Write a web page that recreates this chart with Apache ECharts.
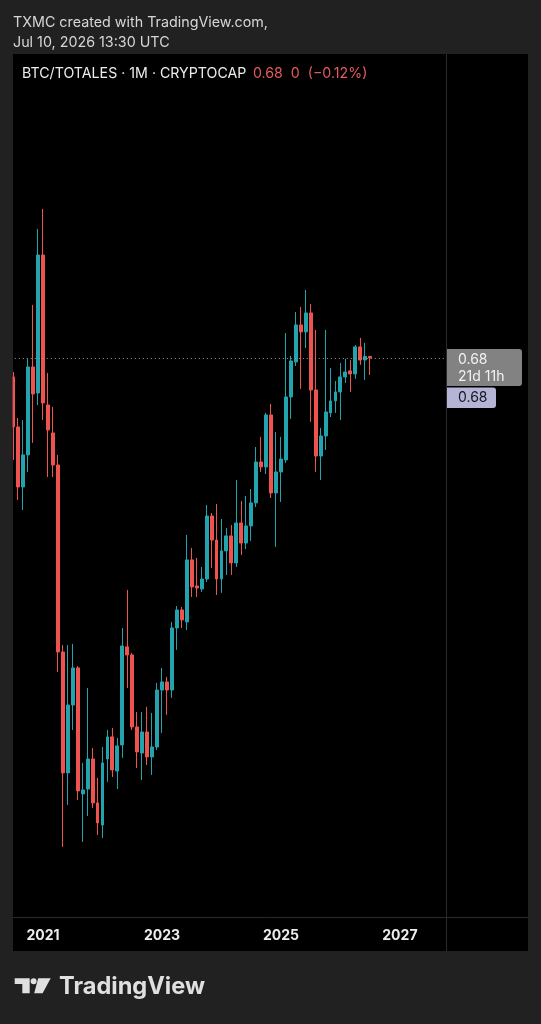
<!DOCTYPE html>
<html>
<head>
<meta charset="utf-8">
<script src="https://cdn.jsdelivr.net/npm/echarts@6/dist/echarts.min.js"></script>
<style>
  html, body { margin: 0; padding: 0; background: #212121; }
  #chart { width: 541px; height: 1024px; }
</style>
</head>
<body>
<div id="chart"></div>
<script>
// BTC/TOTALES monthly candles, Jul 2020 .. Jul 2026
const opens = [
  0.6699, 0.6432, 0.6112, 0.6283, 0.6752, 0.6613, 0.7349, 0.6549, 0.6400, 0.6229,
  0.5232, 0.4587, 0.4949, 0.5147, 0.4475, 0.4501, 0.4661, 0.4427, 0.4309, 0.4661,
  0.4779, 0.4597, 0.4736, 0.5259, 0.5216, 0.4832, 0.4693, 0.4805, 0.4672, 0.4725,
  0.5029, 0.5072, 0.5029, 0.5360, 0.5456, 0.5392, 0.5723, 0.5584, 0.5568, 0.5621,
  0.5957, 0.5829, 0.5621, 0.5771, 0.5851, 0.5707, 0.5920, 0.5813, 0.5904, 0.6027,
  0.6245, 0.6219, 0.6496, 0.6080, 0.6192, 0.6256, 0.6592, 0.6779, 0.6976, 0.6939,
  0.7040, 0.6629, 0.6277, 0.6384, 0.6507, 0.6571, 0.6619, 0.6699, 0.6731, 0.6715,
  0.6859, 0.6789, 0.6808
];
const closes = [
  0.6432, 0.6112, 0.6283, 0.6752, 0.6608, 0.7349, 0.6560, 0.6416, 0.6229, 0.5232,
  0.4587, 0.4949, 0.5147, 0.4491, 0.4496, 0.4661, 0.4427, 0.4320, 0.4640, 0.4779,
  0.4603, 0.4731, 0.5264, 0.5216, 0.4832, 0.4699, 0.4805, 0.4672, 0.4725, 0.5029,
  0.5072, 0.5029, 0.5360, 0.5456, 0.5403, 0.5723, 0.5579, 0.5573, 0.5621, 0.5957,
  0.5829, 0.5621, 0.5771, 0.5851, 0.5707, 0.5920, 0.5813, 0.5904, 0.6027, 0.6245,
  0.6219, 0.6496, 0.6080, 0.6192, 0.6261, 0.6592, 0.6784, 0.6976, 0.6939, 0.7040,
  0.6629, 0.6277, 0.6384, 0.6512, 0.6571, 0.6619, 0.6699, 0.6725, 0.6715, 0.6859,
  0.6789, 0.6808, 0.6800
];
const lows = [
  0.6256, 0.6043, 0.5989, 0.6192, 0.6347, 0.6549, 0.6469, 0.6165, 0.6165, 0.5125,
  0.4192, 0.4416, 0.4816, 0.4443, 0.4219, 0.4357, 0.4400, 0.4256, 0.4240, 0.4539,
  0.4565, 0.4501, 0.4667, 0.5040, 0.4816, 0.4613, 0.4549, 0.4629, 0.4576, 0.4709,
  0.4800, 0.4896, 0.4987, 0.5243, 0.5360, 0.5349, 0.5525, 0.5525, 0.5552, 0.5605,
  0.5680, 0.5536, 0.5547, 0.5643, 0.5643, 0.5685, 0.5749, 0.5781, 0.5824, 0.6005,
  0.6192, 0.6181, 0.6053, 0.5792, 0.6032, 0.6240, 0.6475, 0.6757, 0.6635, 0.6853,
  0.6459, 0.6192, 0.6149, 0.6309, 0.6485, 0.6507, 0.6469, 0.6667, 0.6619, 0.6688,
  0.6763, 0.6683, 0.6709
];
const highs = [
  0.6725, 0.6480, 0.6469, 0.6795, 0.7083, 0.7488, 0.7595, 0.6720, 0.6539, 0.6283,
  0.5269, 0.5269, 0.5275, 0.5157, 0.4640, 0.5040, 0.4720, 0.4560, 0.4725, 0.4816,
  0.4827, 0.4773, 0.5360, 0.5563, 0.5227, 0.4912, 0.4912, 0.4939, 0.4907, 0.5067,
  0.5147, 0.5099, 0.5392, 0.5477, 0.5472, 0.5856, 0.5787, 0.5733, 0.5685, 0.6016,
  0.5973, 0.6021, 0.5941, 0.5893, 0.5909, 0.6149, 0.6037, 0.6064, 0.6101, 0.6325,
  0.6379, 0.6507, 0.6555, 0.6405, 0.6379, 0.6933, 0.6811, 0.7045, 0.7072, 0.7163,
  0.7088, 0.6949, 0.6427, 0.6949, 0.6747, 0.6677, 0.6773, 0.6795, 0.6789, 0.6869,
  0.6907, 0.6880, 0.6811
];

const startYear = 2020;
const startMonth = 7;
const slotCount = 88;            // chart runs on past the last candle to Oct 2027
const yearLabels = ["2021", "2023", "2025", "2027"];
const lastPrice = "0.68";
const changeText = "0  (\u22120.12%)";
const countdown = "21d 11h";

const months = [];
for (let i = 0; i < slotCount; i++) {
  const m = startMonth - 1 + i;
  const y = startYear + Math.floor(m / 12);
  months.push(y + "-" + String((m % 12) + 1).padStart(2, "0"));
}

const UP = "#22a3ad";
const DOWN = "#ef5350";
const FONT = "Inter";

const chart = echarts.init(document.getElementById("chart"), null, { renderer: "canvas" });

const option = {
  animation: false,
  backgroundColor: "#212121",
  grid: { left: 10.8, top: 54, width: 436.2, bottom: 106 },
  xAxis: {
    type: "category",
    data: months,
    boundaryGap: true,
    axisLine: { show: false },
    axisTick: { show: false },
    splitLine: { show: false },
    axisLabel: {
      interval: (i, v) => v.endsWith("-01") && yearLabels.includes(v.slice(0, 4)),
      formatter: (v) => v.slice(0, 4),
      color: "#ececec",
      fontFamily: FONT,
      fontWeight: "bold",
      fontSize: 14,
      margin: 11,
    },
  },
  yAxis: {
    type: "value",
    min: 0.3813,
    max: 0.8421,
    show: false,
    splitLine: { show: false },
  },
  series: [
    {
      type: "candlestick",
      data: opens.map((o, i) => [o, closes[i], lows[i], highs[i]]),
      barWidth: 3.4,
      itemStyle: {
        color: UP,
        color0: DOWN,
        borderColor: UP,
        borderColor0: DOWN,
        borderWidth: 1,
      },
      markLine: {
        silent: true,
        symbol: ["none", "none"],
        label: { show: false },
        lineStyle: { color: "#9a9a9a", type: [1, 3], width: 1 },
        data: [{ yAxis: Number(lastPrice) }],
      },
    },
  ],
};

chart.setOption(option);

const py = chart.convertToPixel({ yAxisIndex: 0 }, Number(lastPrice));

chart.setOption({
  graphic: [
    // black chart panel
    { type: "rect", z: -10, shape: { x: 13, y: 54, width: 515, height: 897 }, style: { fill: "#000" } },
    // keep candles inside the panel on the left
    { type: "rect", z: 100, shape: { x: 0, y: 54, width: 12.6, height: 897 }, style: { fill: "#212121" } },
    { type: "line", z: 100, shape: { x1: 446.5, y1: 54, x2: 446.5, y2: 951 }, style: { stroke: "#2a2a2a", lineWidth: 1 } },
    { type: "line", z: 100, shape: { x1: 13, y1: 917.5, x2: 528, y2: 917.5 }, style: { stroke: "#2a2a2a", lineWidth: 1 } },

    // header
    { type: "text", z: 100, x: 13, y: 23, style: { text: "TXMC created with TradingView.com,", fill: "#d6d6d6", font: "14.3px " + FONT, textVerticalAlign: "middle" } },
    { type: "text", z: 100, x: 13, y: 43, style: { text: "Jul 10, 2026 13:30 UTC", fill: "#d6d6d6", font: "14.3px " + FONT, textVerticalAlign: "middle" } },
    {
      type: "text", z: 100, x: 22, y: 74,
      style: {
        text: "{a|BTC/TOTALES \u00b7 1M \u00b7 CRYPTOCAP}  {b|" + lastPrice + "  " + changeText + "}",
        textVerticalAlign: "middle",
        rich: {
          a: { fill: "#ececec", font: "14.2px " + FONT },
          b: { fill: "#e85a5e", font: "14.2px " + FONT },
        },
      },
    },

    // price scale labels
    { type: "rect", z: 100, shape: { x: 447, y: py - 9, width: 75, height: 37, r: [0, 3, 3, 0] }, style: { fill: "#828282" } },
    { type: "text", z: 101, x: 458, y: py + 2, style: { text: lastPrice, fill: "#f2f2f2", font: "14px " + FONT, textVerticalAlign: "middle" } },
    { type: "text", z: 101, x: 458, y: py + 19, style: { text: countdown, fill: "#f2f2f2", font: "14px " + FONT, textVerticalAlign: "middle" } },
    { type: "rect", z: 100, shape: { x: 447, y: py + 29.5, width: 49, height: 20.5, r: [0, 3, 3, 0] }, style: { fill: "#b4b4d6" } },
    { type: "text", z: 101, x: 458, y: py + 40, style: { text: lastPrice, fill: "#16161e", font: "14px " + FONT, textVerticalAlign: "middle" } },

    // TradingView logo
    { type: "polygon", z: 100, shape: { points: [[14.7, 978.3], [29.7, 978.3], [29.7, 993.3], [22.3, 993.3], [22.3, 984], [14.7, 984]] }, style: { fill: "#e0e0e0" } },
    { type: "circle", z: 100, shape: { cx: 33.6, cy: 981.2, r: 3 }, style: { fill: "#e0e0e0" } },
    { type: "polygon", z: 100, shape: { points: [[38.2, 978.3], [50.7, 978.3], [42.6, 993.3], [34.2, 993.3]] }, style: { fill: "#e0e0e0" } },
    { type: "text", z: 100, x: 59, y: 987, style: { text: "TradingView", fill: "#e0e0e0", font: "bold 23.6px " + FONT, textVerticalAlign: "middle" } },
  ],
});
</script>
</body>
</html>
